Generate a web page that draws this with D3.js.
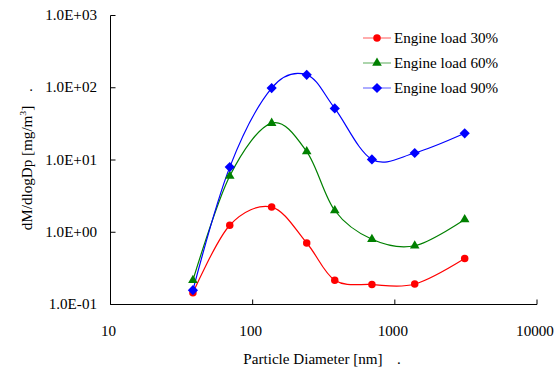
<!DOCTYPE html>
<html>
<head>
<meta charset="utf-8">
<script src="https://cdn.jsdelivr.net/npm/d3@7"></script>
<style>
  body { margin: 0; background: #fff; }
  svg { display: block; }
  text { font-family: "Liberation Serif", "Times New Roman", serif; font-size: 14px; fill: #000; }
</style>
</head>
<body>
<div id="chart"></div>
<script>
// Particle size distribution
const diameters = [38, 69, 136, 240, 378, 690, 1380, 3100];
const load30 = [0.145, 1.25, 2.23, 0.71, 0.217, 0.189, 0.192, 0.434];
const load60 = [0.217, 6.0, 32.4, 13.1, 2.0, 0.80, 0.65, 1.50];
const load90 = [0.158, 7.97, 99, 151, 51.8, 10.2, 12.5, 23.4];
const seriesNames = ["Engine load 30%", "Engine load 60%", "Engine load 90%"];
const xTicks = [10, 100, 1000, 10000];
const yTicks = [0.1, 1, 10, 100, 1000];

const W = 559, H = 370;
const stretch = 1.08; // glyphs in the source are a bit wider than tall

const svg = d3.select("#chart").append("svg")
  .attr("width", W)
  .attr("height", H);

const x = d3.scaleLog().domain([10, 10000]).range([110.5, 537]);
const y = d3.scaleLog().domain([0.1, 1000]).range([304.5, 15.5]);

const series = [
  { name: seriesNames[0], values: load30, color: "#ff0000", shape: "circle" },
  { name: seriesNames[1], values: load60, color: "#008000", shape: "triangle" },
  { name: seriesNames[2], values: load90, color: "#0000ff", shape: "diamond" }
];

function sciLabel (v) {
  const e = Math.round(Math.log10(v));
  return "1.0E" + (e < 0 ? "-" : "+") + String(Math.abs(e)).padStart(2, "0");
}

// text helper, keeps the small horizontal stretch of the original
function addText (parent, px, py, str, anchor, rot) {
  return parent.append("text")
    .attr("transform", `translate(${px},${py}) rotate(${rot || 0}) scale(${stretch},1)`)
    .attr("text-anchor", anchor || "start")
    .text(str);
}

function marker (sel, shape, color) {
  if (shape === "circle") {
    sel.append("path").attr("d", d3.symbol(d3.symbolCircle, 44)()).attr("fill", color);
  } else if (shape === "triangle") {
    sel.append("path").attr("d", d3.symbol(d3.symbolTriangle, 40)()).attr("fill", color);
  } else {
    sel.append("path").attr("d", d3.symbol(d3.symbolSquare, 52)())
      .attr("transform", "rotate(45)").attr("fill", color);
  }
}

// axes
const axes = svg.append("g");

axes.append("line")
  .attr("x1", x.range()[0]).attr("x2", x.range()[0])
  .attr("y1", y.range()[1]).attr("y2", y.range()[0])
  .attr("stroke", "#000");

axes.append("line")
  .attr("x1", x.range()[0]).attr("x2", x.range()[1])
  .attr("y1", y.range()[0]).attr("y2", y.range()[0])
  .attr("stroke", "#000");

yTicks.forEach((t) => {
  axes.append("line")
    .attr("x1", x.range()[0]).attr("x2", x.range()[0] + 5)
    .attr("y1", y(t)).attr("y2", y(t))
    .attr("stroke", "#000");
  addText(axes, 97, y(t) + 4.5, sciLabel(t), "end");
});

xTicks.forEach((t) => {
  axes.append("line")
    .attr("x1", x(t)).attr("x2", x(t))
    .attr("y1", y.range()[0]).attr("y2", y.range()[0] - 5)
    .attr("stroke", "#000");
  addText(axes, x(t) - 2, 336, String(t), "middle");
});

// axis titles
addText(svg, 313, 364, "Particle Diameter [nm]", "middle");
addText(svg, 399, 364, ".", "middle");

const yTitle = addText(svg, 32, 168, "dM/dlogDp [mg/m", "middle", -90);
yTitle.append("tspan").attr("dy", -6).attr("font-size", "9px").text("3");
yTitle.append("tspan").attr("dy", 6).text("]");
addText(svg, 32, 90, ".", "middle", -90);

// series lines, smoothed in log space
const line = d3.line()
  .x((d, i) => x(diameters[i]))
  .y((d) => y(d))
  .curve(d3.curveCardinal.tension(0));

const plot = svg.append("g");

series.forEach((s) => {
  plot.append("path")
    .datum(s.values)
    .attr("d", line)
    .attr("fill", "none")
    .attr("stroke", s.color)
    .attr("stroke-width", 1.2);
});

series.forEach((s) => {
  plot.selectAll(".pt-" + s.shape)
    .data(s.values)
    .enter().append("g")
    .attr("class", "pt-" + s.shape)
    .attr("transform", (d, i) => `translate(${x(diameters[i])},${y(d)})`)
    .each(function () { marker(d3.select(this), s.shape, s.color); });
});

// legend
const legend = svg.append("g");
series.forEach((s, i) => {
  const ly = 38 + i * 25;
  legend.append("line")
    .attr("x1", 363).attr("x2", 391)
    .attr("y1", ly).attr("y2", ly)
    .attr("stroke", s.color)
    .attr("stroke-opacity", 0.65);
  const m = legend.append("g").attr("transform", `translate(377,${ly})`);
  marker(m, s.shape, s.color);
  addText(legend, 394, ly + 5, s.name, "start");
});
</script>
</body>
</html>
